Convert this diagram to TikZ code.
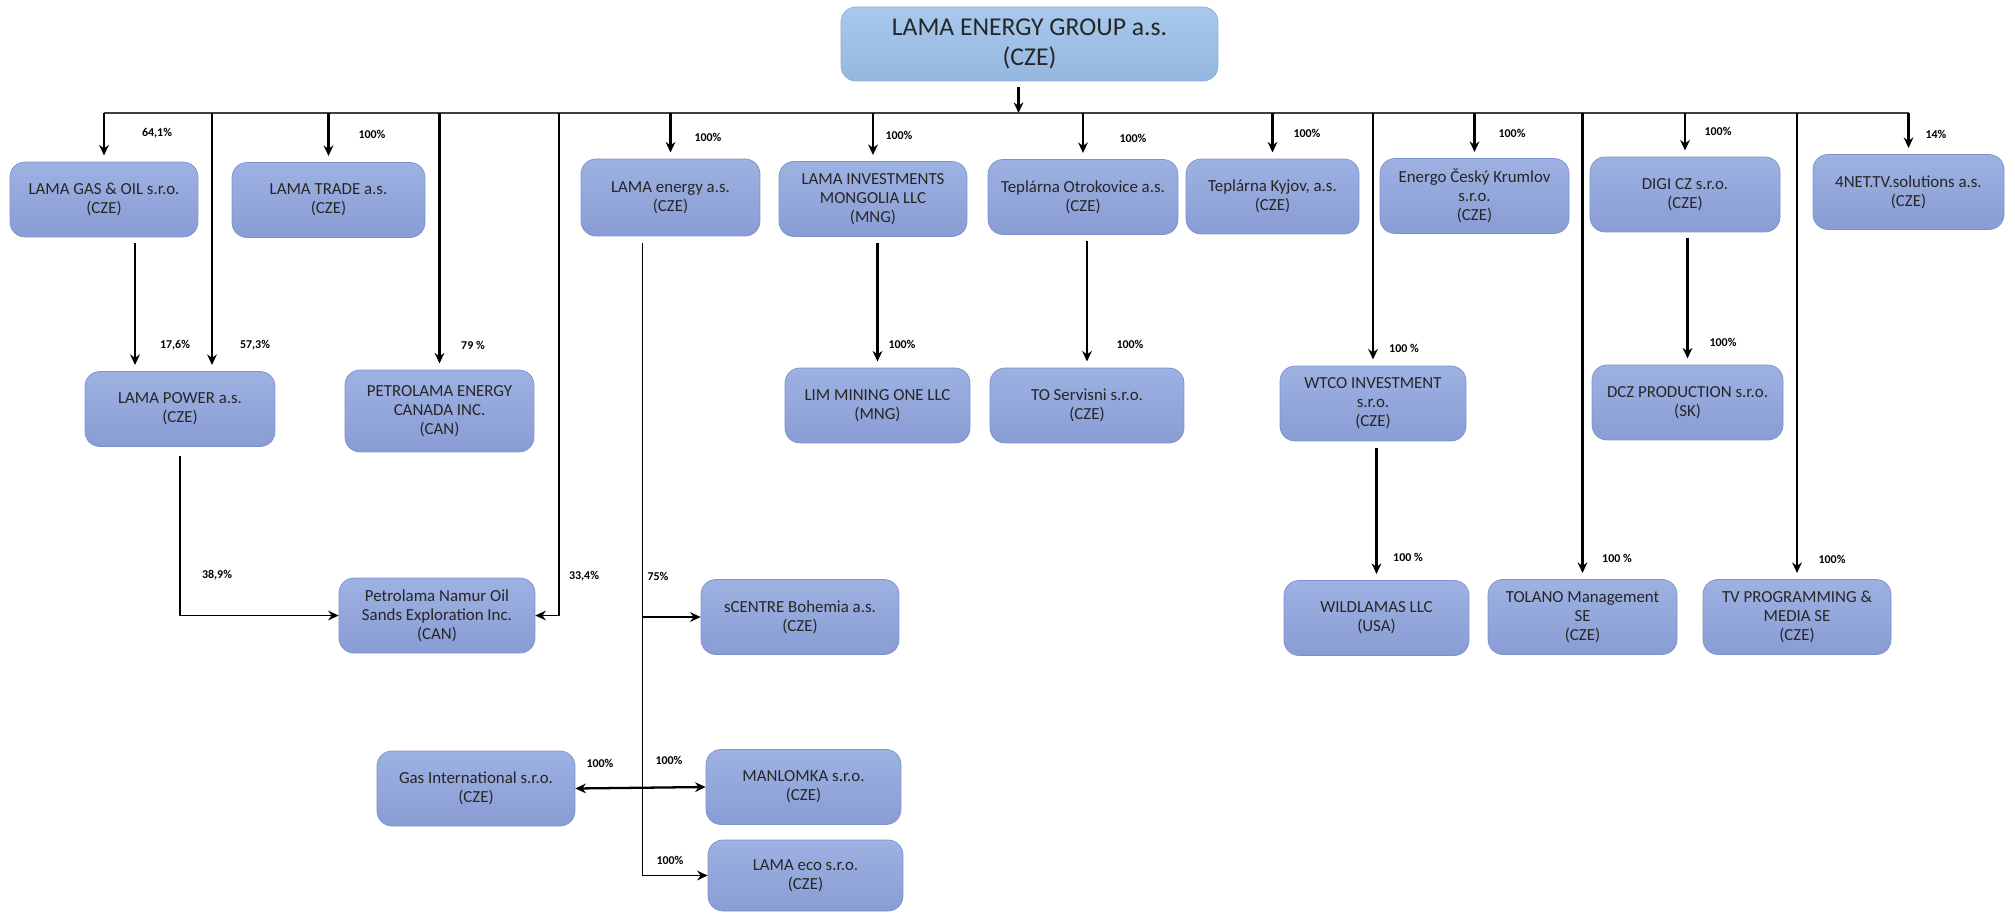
\documentclass[tikz,border=0pt]{standalone}
\usepackage{fontspec}
\setmainfont{Carlito}
\usetikzlibrary{arrows.meta}
\usetikzlibrary{calc}

\definecolor{boxtop}{HTML}{9DB1E2}
\definecolor{boxbot}{HTML}{899DD5}
\definecolor{boxline}{HTML}{7C91CA}
\definecolor{headtop}{HTML}{A9C9EC}
\definecolor{headbot}{HTML}{94B7E1}
\definecolor{headline}{HTML}{8AABD8}

\tikzset{
  firm/.style={draw=boxline, rounded corners=0.3cm, top color=boxtop, bottom color=boxbot,
    minimum width=3.8cm, minimum height=1.5cm, align=center, text=black!85,
    font=\fontsize{9.6}{10.8}\selectfont},
  topfirm/.style={firm, draw=headline, top color=headtop, bottom color=headbot,
    minimum width=7.54cm, minimum height=1.48cm, font=\fontsize{14.6}{17}\selectfont},
  pct/.style={font=\bfseries\fontsize{6.8}{8}\selectfont},
  arr/.style={-{Stealth[length=6pt,width=5.5pt]}, line width=1.3pt},
  drop/.style={arr, shorten >=3.5pt},
  twoway/.style={{Stealth[length=6pt,width=5.5pt]}-{Stealth[length=6pt,width=5.5pt]}, line width=1.3pt},
}

\begin{document}
\begin{tikzpicture}[x=0.02cm, y=-0.02cm]
  \useasboundingbox (0,0) rectangle (2015,913);

  % parent
  \node[topfirm] (group) at (1029.5,44) {LAMA ENERGY GROUP a.s.\\(CZE)};

  % first row
  \node[firm, minimum width=3.76cm] (gas) at (104,199.5) {LAMA GAS \& OIL s.r.o.\\(CZE)};
  \node[firm, minimum width=3.86cm] (trade) at (328.5,200) {LAMA TRADE a.s.\\(CZE)};
  \node[firm, minimum width=3.58cm, minimum height=1.54cm] (energy) at (670.5,197.5) {LAMA energy a.s.\\(CZE)};
  \node[firm, minimum width=3.76cm] (invest) at (873,199) {LAMA INVESTMENTS\\MONGOLIA LLC\\(MNG)};
  \node[firm] (otrok) at (1083,197) {Teplárna Otrokovice a.s.\\(CZE)};
  \node[firm, minimum width=3.46cm] (kyjov) at (1272.5,196.5) {Teplárna Kyjov, a.s.\\(CZE)};
  \node[firm, minimum width=3.78cm] (energo) at (1474.5,196) {Energo Český Krumlov\\s.r.o.\\(CZE)};
  \node[firm] (digi) at (1685,194.5) {DIGI CZ s.r.o.\\(CZE)};
  \node[firm, minimum width=3.82cm] (net) at (1908.5,192) {4NET.TV.solutions a.s.\\(CZE)};

  % second row
  \node[firm] (power) at (180,409) {LAMA POWER a.s.\\(CZE)};
  \node[firm, minimum width=3.78cm, minimum height=1.64cm] (petrocan) at (439.5,411) {PETROLAMA ENERGY\\CANADA INC.\\(CAN)};
  \node[firm, minimum width=3.7cm] (lim) at (877.5,405.5) {LIM MINING ONE LLC\\(MNG)};
  \node[firm, minimum width=3.88cm] (tos) at (1087,405.5) {TO Servisni s.r.o.\\(CZE)};
  \node[firm, minimum width=3.72cm] (wtco) at (1373,403.5) {WTCO INVESTMENT\\s.r.o.\\(CZE)};
  \node[firm, minimum width=3.82cm] (dcz) at (1687.5,402.5) {DCZ PRODUCTION s.r.o.\\(SK)};

  % third row
  \node[firm, minimum width=3.92cm] (namur) at (437,615.5) {Petrolama Namur Oil\\Sands Exploration Inc.\\(CAN)};
  \node[firm, minimum width=3.96cm] (scentre) at (800,617) {sCENTRE Bohemia a.s.\\(CZE)};
  \node[firm, minimum width=3.7cm] (wild) at (1376.5,618) {WILDLAMAS LLC\\(USA)};
  \node[firm, minimum width=3.78cm] (tolano) at (1582.5,617) {TOLANO Management\\SE\\(CZE)};
  \node[firm, minimum width=3.76cm] (tv) at (1797,617) {TV PROGRAMMING \&\\MEDIA SE\\(CZE)};

  % bottom
  \node[firm, minimum width=3.96cm] (gasint) at (476,788.5) {Gas International s.r.o.\\(CZE)};
  \node[firm, minimum width=3.9cm] (manl) at (803.5,787) {MANLOMKA s.r.o.\\(CZE)};
  \node[firm, minimum width=3.9cm, minimum height=1.42cm] (eco) at (805.5,875.5) {LAMA eco s.r.o.\\(CZE)};

  % bus
  \coordinate (bus) at (0,113);
  \coordinate (gtap) at ($(group.south)+(-11,6)$);
  \draw[arr] (gtap) -- (gtap |- bus);
  \draw[line width=0.6pt, black!75] (gas.north |- bus) -- (net.north |- bus);
  \foreach \n in {gas,trade,energy,invest,otrok,kyjov,energo,digi,net}
    \draw[drop] (\n.north |- bus) -- (\n.north);

  % long drops
  \coordinate (tpow) at (212,113);
  \draw[drop] (tpow) -- (tpow |- power.north);
  \draw[drop] (petrocan.north |- bus) -- (petrocan.north);
  \coordinate (tnam) at (559,113);
  \draw[arr, line width=1pt] (tnam) |- (namur.east);
  \foreach \n in {wtco,tolano,tv}
    \draw[drop] (\n.north |- bus) -- (\n.north);

  % lower holdings
  \coordinate (gp) at (135,0);
  \draw[drop, shorten <=3.5pt] (gp |- gas.south) -- (gp |- power.north);
  \draw[drop, shorten <=3.5pt] (lim.north |- invest.south) -- (lim.north);
  \draw[drop, shorten <=3.5pt] (tos.north |- otrok.south) -- (tos.north);
  \draw[drop, shorten <=3.5pt] (wild.north |- wtco.south) -- (wild.north);
  \draw[drop, shorten <=3.5pt] (dcz.north |- digi.south) -- (dcz.north);
  \draw[arr, line width=1pt, shorten <=5pt] (power.south) |- (namur.west);

  % LAMA energy trunk
  \coordinate (etr) at ($(energy.south)+(-28,7)$);
  \draw[arr, line width=1pt] (etr) |- (eco.west);
  \draw[arr] (etr |- scentre.west) -- (scentre.west);
  \draw[twoway] (gasint.east) -- (manl.west);

  % shares
  \node[pct] (p1) at (157,133) {64,1\%};
  \node[pct] (p2) at (372,134) {100\%};
  \node[pct] (p3) at (175,345) {17,6\%};
  \node[pct] (p4) at (255,345) {57,3\%};
  \node[pct] (p5) at (473,345) {79 \%};
  \node[pct] (p6) at (217,575) {38,9\%};
  \node[pct] (p7) at (584,576) {33,4\%};
  \node[pct] (p8) at (658,576) {75\%};
  \node[pct] (p9) at (708,137) {100\%};
  \node[pct] (p10) at (899,135) {100\%};
  \node[pct] (p11) at (902,344) {100\%};
  \node[pct] (p12) at (1133,138) {100\%};
  \node[pct] (p13) at (1130,344) {100\%};
  \node[pct] (p14) at (1307,133) {100\%};
  \node[pct] (p15) at (1512,133) {100\%};
  \node[pct] (p16) at (1718,131) {100\%};
  \node[pct] (p17) at (1936,134) {14\%};
  \node[pct] (p18) at (1404,348) {100 \%};
  \node[pct] (p19) at (1723,342) {100\%};
  \node[pct] (p20) at (1408,557) {100 \%};
  \node[pct] (p21) at (1617,558) {100 \%};
  \node[pct] (p22) at (1832,559) {100\%};
  \node[pct] (p23) at (600,763) {100\%};
  \node[pct] (p24) at (669,760) {100\%};
  \node[pct] (p25) at (670,860) {100\%};
\end{tikzpicture}
\end{document}
